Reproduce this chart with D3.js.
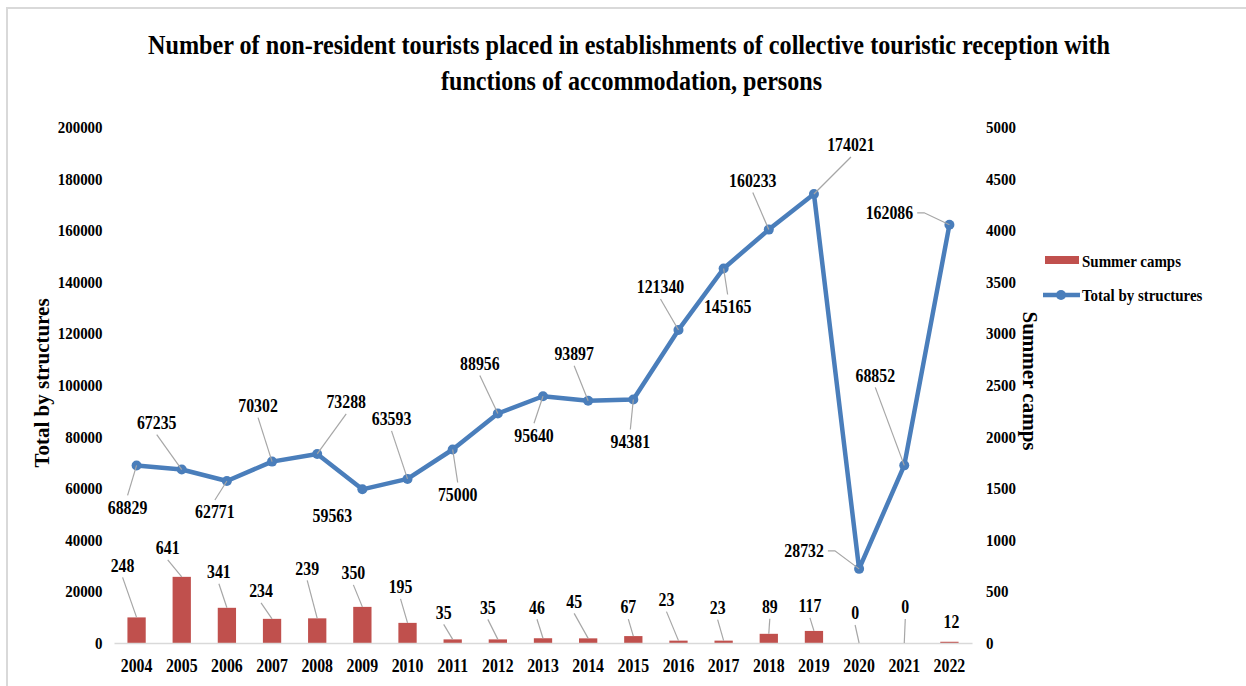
<!DOCTYPE html>
<html>
<head>
<meta charset="utf-8">
<script src="https://cdn.jsdelivr.net/npm/d3@7/dist/d3.min.js"></script>
<style>
  body { margin: 0; background: #fff; }
  svg text { font-family: "Liberation Serif", "Times New Roman", serif; font-weight: bold; fill: #000; }
</style>
</head>
<body>
<svg id="chart"></svg>
<script>
// Data
const years = ["2004","2005","2006","2007","2008","2009","2010","2011","2012","2013",
               "2014","2015","2016","2017","2018","2019","2020","2021","2022"];
const totalByStructures = [68829, 67235, 62771, 70302, 73288, 59563, 63593, 75000, 88956, 95640,
                           93897, 94381, 121340, 145165, 160233, 174021, 28732, 68852, 162086];
const summerCamps = [248, 641, 341, 234, 239, 350, 195, 35, 35, 46,
                     45, 67, 23, 23, 89, 117, 0, 0, 12];
const leftTicks = [0, 20000, 40000, 60000, 80000, 100000, 120000, 140000, 160000, 180000, 200000];
const rightTicks = [0, 500, 1000, 1500, 2000, 2500, 3000, 3500, 4000, 4500, 5000];

// label placement (dx, dy from the mark, leader type: 0 none, 1 straight, 2 elbow)
const lineLabelPos = [[-9,42,1],[-25,-47,1],[-12,31,1],[-14,-56,1],[29,-52,1],[-30,26,0],[-16,-60,1],
  [5,45,1],[-18,-50,1],[-9,39,1],[-14,-47,1],[-3,42,1],[-18,-43,1],[4,38,1],[-16,-49,1],[37,-49,1],
  [-55,-18,2],[-29,-90,1],[-60,-12,2]];
const barLabelPos = [[-14,-52,1],[-14,-29,1],[-8,-36,1],[-11,-28,1],[-10,-50,1],[-9,-34,1],[-7,-36,1],
  [-9,-27,1],[-10,-32,1],[-6,-31,1],[-14,-37,1],[-5,-29,1],[-12,-41,1],[-6,-33,1],[1,-27,1],[-4,-25,1],
  [-4,-30,1],[1,-36,1],[2,-20,0]];

const width = 1246;
const height = 686;
const marginTop = 127;
const marginRight = 274;
const marginBottom = 43;
const marginLeft = 114;
const sx = 0.88;   // the source picture is squeezed horizontally

const lineColor = "#4A7EBB";
const barColor = "#C0504D";
const leaderColor = "#A6A6A6";

const svg = d3.select("#chart")
    .attr("width", width)
    .attr("height", height)
    .attr("viewBox", [0, 0, width, height]);

// chart frame
svg.append("path")
    .attr("d", `M7,${height}V8H${width}`)
    .attr("fill", "none")
    .attr("stroke", "#D9D9D9")
    .attr("stroke-width", 2);

// Title
const titleLines = [
  ["Number of non-resident tourists placed in establishments of collective touristic reception with", 148, 54, 962],
  ["functions of accommodation, persons", 441, 90, 381]
];
svg.selectAll(".title")
  .data(titleLines)
  .join("text")
    .attr("class", "title")
    .attr("x", d => d[1])
    .attr("y", d => d[2])
    .attr("textLength", d => d[3])
    .attr("lengthAdjust", "spacingAndGlyphs")
    .style("font-size", "27px")
    .text(d => d[0]);

// Scales
const x = d3.scaleBand()
    .domain(years)
    .range([marginLeft, width - marginRight])
    .padding(0);
const cx = d => x(d) + x.bandwidth() / 2;

const yLeft = d3.scaleLinear()
    .domain([0, 200000])
    .range([height - marginBottom, marginTop]);

const yRight = d3.scaleLinear()
    .domain([0, 5000])
    .range([height - marginBottom, marginTop]);

// Axes
svg.append("g")
    .attr("transform", `translate(${marginLeft},0)`)
    .call(d3.axisLeft(yLeft).tickValues(leftTicks).tickSize(0).tickPadding(13).tickFormat(d3.format("d")))
    .call(g => g.select(".domain").remove())
    .call(g => g.selectAll("text").style("font-size", "17px").style("font-family", null)
        .attr("transform", `scale(${sx},1)`));

svg.append("g")
    .attr("transform", `translate(${width - marginRight},0)`)
    .call(d3.axisRight(yRight).tickValues(rightTicks).tickSize(0).tickPadding(16).tickFormat(d3.format("d")))
    .call(g => g.select(".domain").remove())
    .call(g => g.selectAll("text").style("font-size", "17px").style("font-family", null)
        .attr("transform", `scale(${sx},1)`));

// Bars (Summer camps, right axis)
const barW = x.bandwidth() * 0.405;
svg.append("g")
  .selectAll("rect")
  .data(years)
  .join("rect")
    .attr("x", (d) => cx(d) - barW / 2)
    .attr("y", (d, i) => yRight(summerCamps[i]))
    .attr("width", barW)
    .attr("height", (d, i) => yRight(0) - yRight(summerCamps[i]))
    .attr("fill", barColor);

svg.append("g")
    .attr("transform", `translate(0,${height - marginBottom})`)
    .call(d3.axisBottom(x).tickSize(0).tickPadding(16))
    .call(g => g.select(".domain").attr("stroke", "#D9D9D9").attr("stroke-width", 1.5))
    .call(g => g.selectAll("text").style("font-size", "18px").style("font-family", null)
        .attr("transform", `scale(${sx},1)`));

// Line (Total by structures, left axis)
const line = d3.line()
    .x((d, i) => cx(years[i]))
    .y(d => yLeft(d));

svg.append("path")
    .datum(totalByStructures)
    .attr("d", line)
    .attr("fill", "none")
    .attr("stroke", lineColor)
    .attr("stroke-width", 4.5)
    .attr("stroke-linejoin", "round");

svg.append("g")
  .selectAll("circle")
  .data(totalByStructures)
  .join("circle")
    .attr("cx", (d, i) => cx(years[i]))
    .attr("cy", d => yLeft(d))
    .attr("r", 5)
    .attr("fill", lineColor);

// Data labels with leader lines
function addLabels(values, yScale, pos) {
  const g = svg.append("g");
  values.forEach((v, i) => {
    const px = cx(years[i]);
    const py = yScale(v);
    const [dx, dy, kind] = pos[i];
    const lx = px + dx, ly = py + dy;
    const label = String(v);
    if (kind === 1) {
      const sy = ly + (dy < 0 ? 12 : -12);
      g.append("line")
          .attr("x1", lx).attr("y1", sy)
          .attr("x2", px).attr("y2", py)
          .attr("stroke", leaderColor).attr("stroke-width", 1.2);
    } else if (kind === 2) {
      const halfW = label.length * 9 * sx / 2;
      const sx0 = lx + (dx < 0 ? halfW + 4 : -halfW - 4);
      const sx1 = sx0 + (dx < 0 ? 7 : -7);
      g.append("path")
          .attr("d", `M${sx0},${ly}H${sx1}L${px},${py}`)
          .attr("fill", "none")
          .attr("stroke", leaderColor).attr("stroke-width", 1.2);
    }
    g.append("text")
        .attr("transform", `translate(${lx},${ly}) scale(${sx},1)`)
        .attr("text-anchor", "middle")
        .attr("dy", "0.35em")
        .style("font-size", "18px")
        .text(label);
  });
}
addLabels(summerCamps, yRight, barLabelPos);
addLabels(totalByStructures, yLeft, lineLabelPos);

// Axis titles
svg.append("text")
    .attr("transform", "translate(42,383) rotate(-90)")
    .attr("text-anchor", "middle")
    .attr("dy", "0.35em")
    .style("font-size", "21px")
    .text("Total by structures");

svg.append("text")
    .attr("transform", "translate(1030,381) rotate(90)")
    .attr("text-anchor", "middle")
    .attr("dy", "0.35em")
    .style("font-size", "21px")
    .text("Summer camps");

// Legend
const legend = svg.append("g");
legend.append("rect")
    .attr("x", 1045).attr("y", 256)
    .attr("width", 34).attr("height", 8)
    .attr("fill", barColor);
legend.append("line")
    .attr("x1", 1043).attr("x2", 1080)
    .attr("y1", 295).attr("y2", 295)
    .attr("stroke", lineColor).attr("stroke-width", 4.5);
legend.append("circle")
    .attr("cx", 1061).attr("cy", 295).attr("r", 5)
    .attr("fill", lineColor);
legend.selectAll("text")
  .data([["Summer camps", 261], ["Total by structures", 295]])
  .join("text")
    .attr("transform", d => `translate(1082,${d[1]}) scale(${sx},1)`)
    .attr("dy", "0.35em")
    .style("font-size", "17px")
    .text(d => d[0]);
</script>
</body>
</html>
